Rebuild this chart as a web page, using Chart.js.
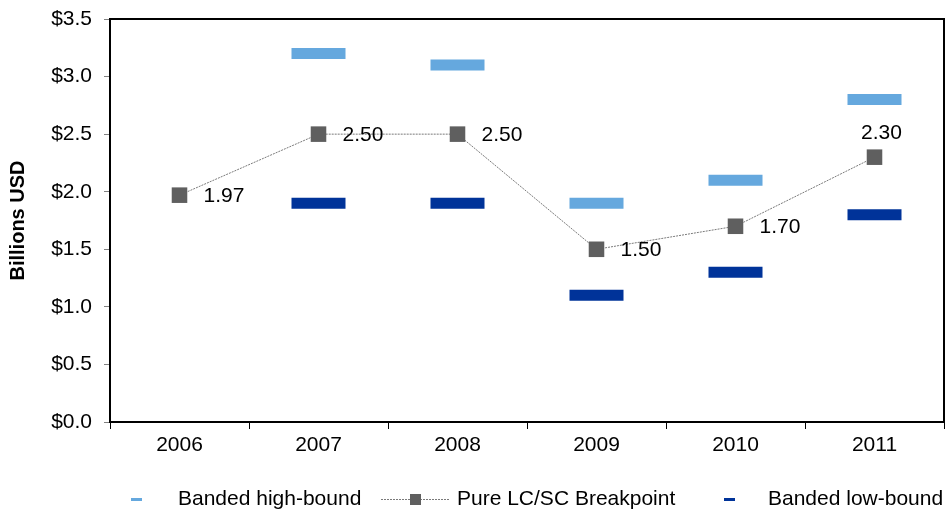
<!DOCTYPE html>
<html>
<head>
<meta charset="utf-8">
<script src="https://cdn.jsdelivr.net/npm/chart.js@4.4.1/dist/chart.umd.min.js"></script>
<style>
  html, body { margin: 0; padding: 0; background: #fff; }
  #wrap { width: 948px; height: 510px; position: relative; }
</style>
</head>
<body>
<div id="wrap"><canvas id="chartCanvas" width="948" height="510"></canvas></div>
<script>
// chart data
var years = ['2006', '2007', '2008', '2009', '2010', '2011'];
var highBound = [null, 3.2, 3.1, 1.9, 2.1, 2.8];
var breakpoint = [1.97, 2.5, 2.5, 1.5, 1.7, 2.3];
var lowBound = [null, 1.9, 1.9, 1.1, 1.3, 1.8];
var yTicks = [0, 0.5, 1.0, 1.5, 2.0, 2.5, 3.0, 3.5];

var FONT = 'Liberation Sans, Arial, sans-serif';
var LIGHT = '#65a8de';
var DARK = '#003399';
var GREY = '#5f5f5f';
var LINE = '#7a7a7a';

// box around the plot area + value labels + legend
var decorPlugin = {
  id: 'decor',
  afterDatasetsDraw: function (chart) {
    var ctx = chart.ctx;
    var a = chart.chartArea;
    ctx.save();
    ctx.strokeStyle = '#000';
    ctx.lineWidth = 2;
    ctx.strokeRect(a.left, a.top, a.right - a.left, a.bottom - a.top);

    // labels for breakpoint series
    var meta = chart.getDatasetMeta(1);
    ctx.fillStyle = '#000';
    ctx.font = '21px ' + FONT;
    ctx.textBaseline = 'middle';
    meta.data.forEach(function (pt, i) {
      var txt = breakpoint[i].toFixed(2);
      if (i === breakpoint.length - 1) {
        ctx.textAlign = 'center';
        ctx.fillText(txt, pt.x + 7, pt.y - 24);
      } else {
        ctx.textAlign = 'left';
        ctx.fillText(txt, pt.x + 24, pt.y + 1);
      }
    });

    // legend
    var ly = 499.5;
    ctx.font = '21px ' + FONT;
    ctx.textAlign = 'left';
    ctx.fillStyle = LIGHT;
    ctx.fillRect(131, 498, 11, 3);
    ctx.fillStyle = '#000';
    ctx.fillText('Banded high-bound', 178, ly);

    ctx.strokeStyle = LINE;
    ctx.lineWidth = 1;
    ctx.setLineDash([2, 1]);
    ctx.beginPath();
    ctx.moveTo(381, ly);
    ctx.lineTo(449, ly);
    ctx.stroke();
    ctx.setLineDash([]);
    ctx.fillStyle = GREY;
    ctx.fillRect(410, 494, 11, 11);
    ctx.fillStyle = '#000';
    ctx.fillText('Pure LC/SC Breakpoint', 457, ly);

    ctx.fillStyle = DARK;
    ctx.fillRect(724, 498, 11, 3);
    ctx.fillStyle = '#000';
    ctx.fillText('Banded low-bound', 768, ly);
    ctx.restore();
  }
};

var ctx = document.getElementById('chartCanvas').getContext('2d');
var chart = new Chart(ctx, {
  type: 'line',
  data: {
    labels: years,
    datasets: [{
      label: 'Banded high-bound',
      data: highBound,
      showLine: false,
      pointStyle: 'line',
      pointRadius: 27,
      pointHoverRadius: 27,
      pointBorderWidth: 11,
      borderColor: LIGHT,
      backgroundColor: LIGHT
    }, {
      label: 'Pure LC/SC Breakpoint',
      data: breakpoint,
      borderColor: LINE,
      borderWidth: 1,
      borderDash: [2, 1],
      pointStyle: 'rect',
      pointRadius: 11,
      pointHoverRadius: 11,
      pointBorderWidth: 0,
      pointBackgroundColor: GREY,
      pointBorderColor: GREY,
      tension: 0,
      fill: false
    }, {
      label: 'Banded low-bound',
      data: lowBound,
      showLine: false,
      pointStyle: 'line',
      pointRadius: 27,
      pointHoverRadius: 27,
      pointBorderWidth: 11,
      borderColor: DARK,
      backgroundColor: DARK
    }]
  },
  options: {
    responsive: false,
    animation: false,
    layout: { autoPadding: false, padding: { top: 19, right: 4, left: 0, bottom: 0 } },
    plugins: {
      legend: { display: false },
      tooltip: { enabled: false }
    },
    scales: {
      x: {
        offset: true,
        grid: { offset: true, drawOnChartArea: false, drawTicks: true, tickLength: 7, color: '#000', lineWidth: 1 },
        border: { display: false },
        ticks: { color: '#000', font: { family: FONT, size: 21 }, padding: 4, maxRotation: 0 },
        afterFit: function (s) {
          s.height = 88;
          s.paddingLeft = 0;
          s.paddingRight = 0;
        }
      },
      y: {
        min: 0,
        max: 3.5,
        afterBuildTicks: function (s) { s.ticks = yTicks.map(function (v) { return { value: v }; }); },
        grid: { drawOnChartArea: false, drawTicks: true, tickLength: 6, color: '#808080' },
        border: { display: false },
        ticks: {
          color: '#000',
          font: { family: FONT, size: 21 },
          padding: 12,
          callback: function (v) { return '$' + Number(v).toFixed(1); }
        },
        title: {
          display: true,
          text: 'Billions USD',
          color: '#000',
          font: { family: FONT, size: 20, weight: 'bold' },
          padding: { top: 6, bottom: 0 }
        },
        afterFit: function (s) {
          s.width = 110;
          s.paddingTop = 0;
          s.paddingBottom = 0;
        }
      }
    }
  },
  plugins: [decorPlugin]
});
</script>
</body>
</html>
